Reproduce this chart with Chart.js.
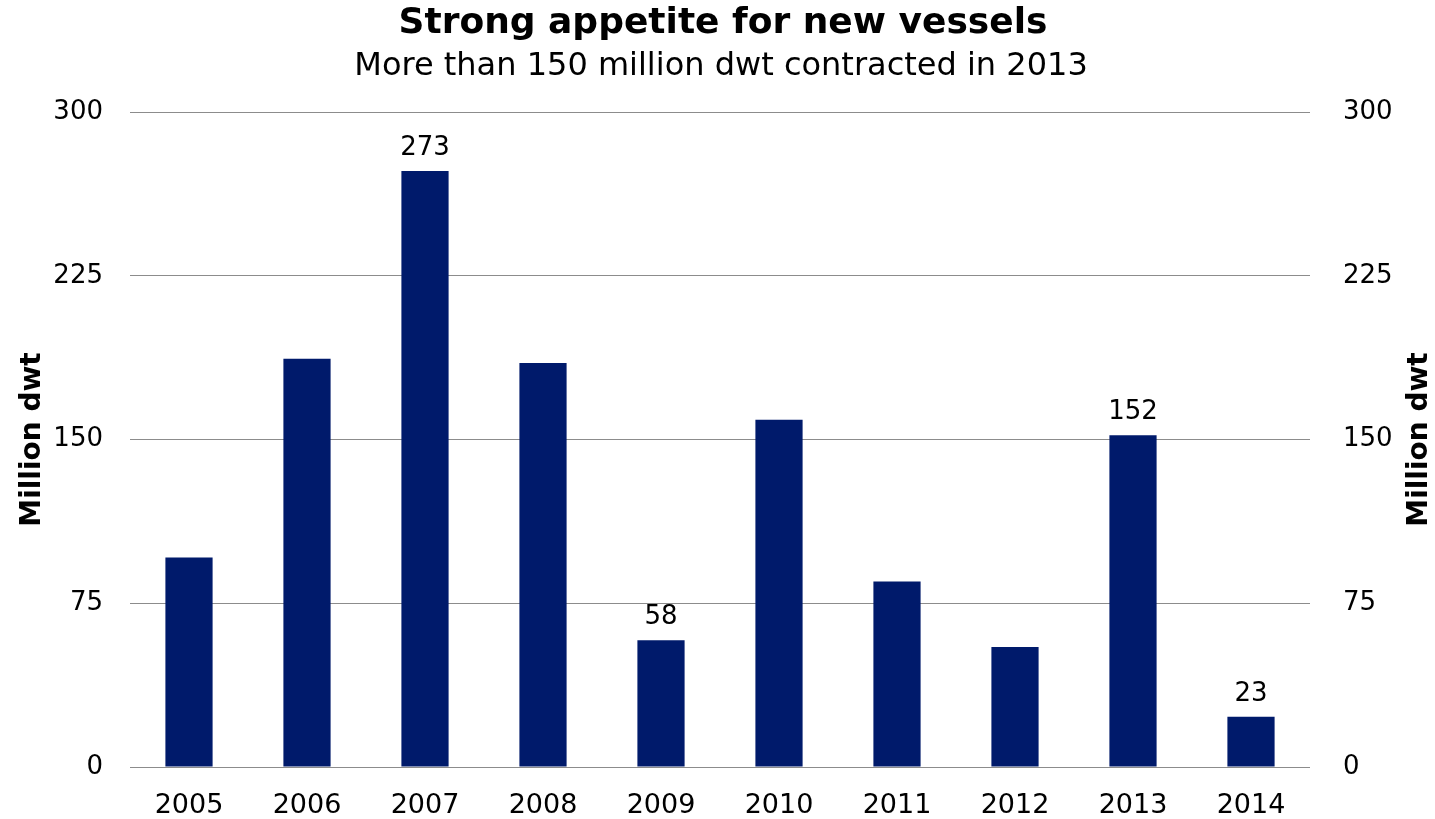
<!DOCTYPE html>
<html>
<head>
<meta charset="utf-8">
<title>Strong appetite for new vessels</title>
<script src="https://cdn.jsdelivr.net/npm/chart.js@4"></script>
<style>
  html, body { margin: 0; padding: 0; background: #fff; }
  #wrap { width: 1435px; height: 819px; position: relative; }
</style>
</head>
<body>
<div id="wrap"><canvas id="myChart"></canvas></div>
<script>
const years = ["2005", "2006", "2007", "2008", "2009", "2010", "2011", "2012", "2013", "2014"];
const contracted = [96, 187, 273, 185, 58, 159, 85, 55, 152, 23];
// only these years get a value printed above the bar
const labelled = ["2007", "2009", "2013", "2014"];
const yTicks = [0, 75, 150, 225, 300];

const FONT = "'DejaVu Sans', Verdana, sans-serif";
const NAVY = "#001a6b";

// titles, axis captions and value labels are painted by hand
const textPlugin = {
  id: "textPlugin",
  afterDraw(chart) {
    const c = chart.ctx;
    const area = chart.chartArea;
    c.save();
    c.fillStyle = "#000";
    c.textAlign = "center";
    c.textBaseline = "middle";

    c.font = "bold 36px " + FONT;
    c.fillText("Strong appetite for new vessels", 723, 24);
    c.font = "32px " + FONT;
    c.fillText("More than 150 million dwt contracted in 2013", 721, 67);

    // both axis captions read bottom to top
    c.font = "bold 28px " + FONT;
    const midY = (area.top + area.bottom) / 2;
    [33, 1420].forEach(x => {
      c.save();
      c.translate(x, midY);
      c.rotate(-Math.PI / 2);
      c.fillText("Million dwt", 0, 0);
      c.restore();
    });

    c.font = "26px " + FONT;
    const meta = chart.getDatasetMeta(0);
    meta.data.forEach((bar, i) => {
      if (labelled.includes(years[i])) {
        c.fillText(String(contracted[i]), bar.x, bar.y - 23);
      }
    });
    c.restore();
  }
};

const ctx = document.getElementById("myChart").getContext("2d");
const myChart = new Chart(ctx, {
  type: "bar",
  data: {
    labels: years,
    datasets: [
      {
        label: "Million dwt",
        data: contracted,
        backgroundColor: NAVY,
        borderWidth: 0,
        categoryPercentage: 1,
        barPercentage: 0.4,
        yAxisID: "y",
      },
    ],
  },
  options: {
    responsive: true,
    maintainAspectRatio: false,
    animation: false,
    layout: { padding: { top: 112, left: 0, right: 0, bottom: 0 } },
    plugins: {
      legend: { display: false },
      tooltip: { enabled: false },
    },
    scales: {
      x: {
        grid: { display: false },
        border: { display: false },
        ticks: { color: "#000", font: { family: FONT, size: 27 }, padding: 15, maxRotation: 0 },
        afterFit(scale) { scale.height = 52; },
      },
      y: {
        position: "left",
        min: 0,
        max: 300,
        afterBuildTicks(scale) { scale.ticks = yTicks.map(v => ({ value: v })); },
        grid: { color: "#8c8c8c", lineWidth: 1, drawTicks: false },
        border: { display: false },
        ticks: { color: "#000", font: { family: FONT, size: 26 }, padding: 27 },
        afterFit(scale) { scale.width = 130; },
      },
      y2: {
        position: "right",
        min: 0,
        max: 300,
        afterBuildTicks(scale) { scale.ticks = yTicks.map(v => ({ value: v })); },
        grid: { display: false, drawTicks: false },
        border: { display: false },
        ticks: { color: "#000", font: { family: FONT, size: 26 }, padding: 33 },
        afterFit(scale) { scale.width = 125; },
      },
    },
  },
  plugins: [textPlugin],
});
</script>
</body>
</html>
